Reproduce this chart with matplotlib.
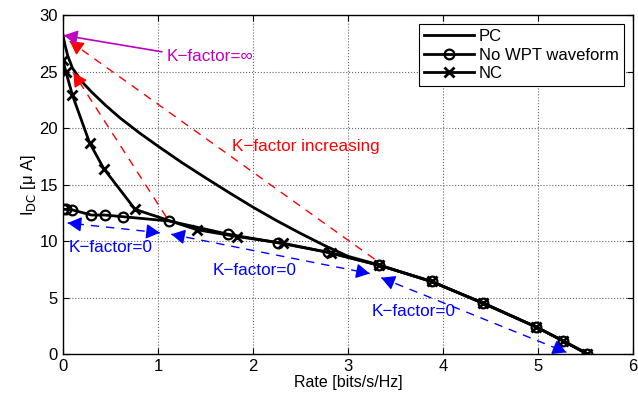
import matplotlib
matplotlib.use("Agg")
import matplotlib.pyplot as plt
import numpy as np

plt.rcParams['font.family'] = ['Liberation Sans', 'DejaVu Sans']

# ---- data ----
pc_rate = [0.0, 0.02, 0.05, 0.10, 0.20, 0.30, 0.45, 0.60, 0.80, 1.00, 1.25, 1.50, 1.75, 2.00, 2.25, 2.50, 2.75, 3.00, 3.33, 3.88, 4.43, 4.98, 5.27, 5.53]
pc_idc  = [28.2, 27.4, 26.4, 25.3, 24.1, 23.2, 22.0, 20.9, 19.6, 18.4, 16.95, 15.6, 14.28, 13.0, 11.8, 10.68, 9.62, 8.65, 7.88, 6.4, 4.5, 2.4, 1.15, 0.0]

nowpt_rate = [0.0, 0.03, 0.10, 0.30, 0.44, 0.635, 1.12, 1.74, 2.26, 2.79, 3.33, 3.88, 4.42, 4.98, 5.26, 5.52]
nowpt_idc  = [12.8, 12.8, 12.75, 12.3, 12.3, 12.15, 11.77, 10.6, 9.85, 9.0, 7.85, 6.43, 4.5, 2.4, 1.18, 0.0]

nc_rate = [0.0, 0.03, 0.10, 0.28, 0.43, 0.76, 1.41, 1.83, 2.32, 2.82, 3.33, 3.88, 4.42, 4.98, 5.26, 5.52]
nc_idc  = [26.0, 25.0, 22.9, 18.7, 16.4, 12.8, 11.0, 10.4, 9.8, 8.95, 7.85, 6.43, 4.5, 2.4, 1.18, 0.0]

xticks = [0, 1, 2, 3, 4, 5, 6]
yticks = [0, 5, 10, 15, 20, 25, 30]

# annotation arrows: (start, end)
red_arrows = [((3.28, 8.4), (0.07, 27.7)), ((1.09, 12.1), (0.11, 24.9))]
blue_arrows = [((1.02, 10.73), (0.05, 11.6)), ((1.14, 10.6), (3.23, 7.12)), ((3.35, 6.75), (5.30, 0.15))]
mag_arrow = ((1.04, 26.75), (0.01, 28.2))

texts = [
    (1.09, 26.3, "K\u2212factor=\u221e", 'm'),
    (1.78, 18.35, "K\u2212factor increasing", 'r'),
    (0.06, 9.4, "K\u2212factor=0", 'b'),
    (1.58, 7.4, "K\u2212factor=0", 'b'),
    (3.25, 3.75, "K\u2212factor=0", 'b'),
]

fig = plt.figure(figsize=(6.38, 3.96), dpi=100)
ax = fig.add_axes([0.0987, 0.106, 0.8933, 0.856])

ax.plot(pc_rate, pc_idc, '-', color='k', lw=2, label='PC')
ax.plot(nowpt_rate, nowpt_idc, '-o', color='k', lw=2, ms=7, mfc='none', mew=1.6, label='No WPT waveform')
ax.plot(nc_rate, nc_idc, '-x', color='k', lw=2, ms=7, mew=2, label='NC')

def head(tip, other, color, ms=15):
    tx, ty = tip
    ox, oy = other
    bx = tx + (ox - tx) * 0.02
    by = ty + (oy - ty) * 0.02
    ax.annotate('', xy=(tx, ty), xytext=(bx, by),
                arrowprops=dict(arrowstyle='-|>,head_length=0.55,head_width=0.3', color=color,
                                lw=1.0, shrinkA=0, shrinkB=0, mutation_scale=ms))

for (s, e) in red_arrows:
    ax.plot([s[0], e[0]], [s[1], e[1]], color='r', lw=1, dashes=(6, 5))
    head(e, s, 'r')

for (s, e) in blue_arrows:
    ax.plot([s[0], e[0]], [s[1], e[1]], color='b', lw=1, dashes=(6, 5))
    head(e, s, 'b')
    head(s, e, 'b')

(s, e) = mag_arrow
ax.plot([s[0], e[0]], [s[1], e[1]], color='m', lw=1.2)
head(e, s, 'm')

for x, y, t, c in texts:
    ax.text(x, y, t, color=c, fontsize=12.3, va='center', ha='left')

ax.set_xlim(0, 6)
ax.set_ylim(0, 30)
ax.set_xticks(xticks)
ax.set_yticks(yticks)
ax.tick_params(direction='in', top=True, right=True, labelsize=12, length=4, width=0.8)
ax.grid(True, linestyle=':', color='0.4', lw=0.8)
for sp in ax.spines.values():
    sp.set_linewidth(1.0)

ax.set_xlabel('Rate [bits/s/Hz]', fontsize=11.5, labelpad=1)
ax.set_ylabel('I$_{\\mathrm{DC}}$ [\u03bc A]', fontsize=12, labelpad=1)

leg = ax.legend(loc='upper right', fontsize=12, frameon=True, fancybox=False,
                edgecolor='k', framealpha=1, borderpad=0.3, labelspacing=0.2,
                handlelength=3.0, handletextpad=0.3, borderaxespad=0.55)
leg.get_frame().set_linewidth(0.8)

fig.savefig('out.png', dpi=100)
